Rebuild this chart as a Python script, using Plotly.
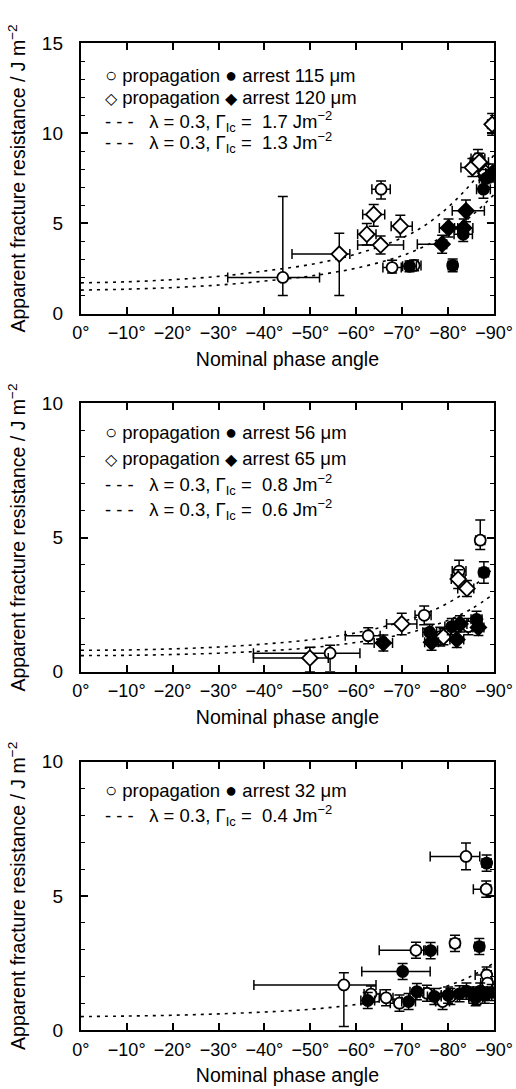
import plotly.graph_objects as go

# ---------------- DATA ----------------
x_tick_vals = [0, -10, -20, -30, -40, -50, -60, -70, -80, -90]
x_tick_text = ["0°", "−10°", "−20°", "−30°", "−40°", "−50°", "−60°", "−70°", "−80°", "−90°"]

curve_angle = [0, -10, -20, -30, -40, -50, -60, -70, -75, -80, -85, -90]
p1_curve_17 = [1.70, 1.76, 1.88, 2.06, 2.36, 2.72, 3.30, 4.20, 4.90, 5.90, 7.20, 8.80]
p1_curve_13 = [1.30, 1.35, 1.44, 1.58, 1.80, 2.08, 2.52, 3.21, 3.75, 4.45, 5.40, 6.60]
p2_curve_08 = [0.80, 0.81, 0.85, 0.92, 1.03, 1.19, 1.45, 1.86, 2.16, 2.56, 3.11, 3.88]
p2_curve_06 = [0.60, 0.61, 0.64, 0.69, 0.77, 0.89, 1.09, 1.39, 1.62, 1.92, 2.33, 2.91]
p3_curve_04 = [0.50, 0.52, 0.55, 0.60, 0.67, 0.77, 0.95, 1.20, 1.40, 1.65, 2.00, 2.50]

# Panel 1 : 115 um (circles) and 120 um (diamonds)
p1_prop115_x = [-44.0, -65.4, -67.8, -72.6, -86.5]
p1_prop115_y = [2.0, 6.9, 2.55, 2.67, 8.6]
p1_prop115_exl = [12.0, 2.0, 2.0, 1.5, 1.5]
p1_prop115_exr = [8.0, 2.0, 2.0, 1.5, 1.5]
p1_prop115_eyu = [4.5, 0.45, 0.4, 0.3, 0.5]
p1_prop115_eyd = [1.0, 0.55, 0.3, 0.3, 0.5]

p1_arr115_x = [-71.6, -81.0, -83.3, -87.7, -88.3]
p1_arr115_y = [2.62, 2.67, 4.4, 6.9, 7.5]
p1_arr115_exl = [1.5, 1.0, 2.0, 1.5, 1.5]
p1_arr115_exr = [1.5, 1.0, 2.0, 1.5, 1.0]
p1_arr115_eyu = [0.3, 0.35, 0.4, 0.5, 0.5]
p1_arr115_eyd = [0.3, 0.35, 0.4, 0.5, 0.5]

p1_prop120_x = [-56.3, -63.8, -62.3, -65.3, -69.6, -85.3, -86.8, -88.2, -89.6]
p1_prop120_y = [3.3, 5.5, 4.4, 3.8, 4.85, 8.1, 8.4, 7.8, 10.5]
p1_prop120_exl = [10.3, 2.4, 2.0, 5.0, 2.0, 2.5, 2.0, 1.5, 1.0]
p1_prop120_exr = [2.3, 2.4, 2.0, 5.0, 2.6, 2.0, 2.0, 1.5, 0.4]
p1_prop120_eyu = [1.15, 0.55, 0.6, 0.5, 0.6, 0.5, 0.5, 0.5, 0.6]
p1_prop120_eyd = [2.3, 0.65, 0.6, 0.5, 0.6, 0.5, 0.5, 0.5, 0.6]

p1_arr120_x = [-78.7, -80.1, -83.4, -83.9, -89.7]
p1_arr120_y = [3.85, 4.75, 4.75, 5.7, 7.8]
p1_arr120_exl = [5.4, 2.0, 2.0, 3.0, 1.5]
p1_arr120_exr = [1.0, 2.0, 2.0, 4.0, 0.3]
p1_arr120_eyu = [0.5, 0.5, 0.5, 0.6, 0.5]
p1_arr120_eyd = [0.5, 0.5, 0.5, 0.6, 0.5]

# Panel 2 : 56 um (circles) and 65 um (diamonds)
p2_prop56_x = [-54.3, -62.6, -74.8, -78.3, -84.4, -82.4, -87.0]
p2_prop56_y = [0.69, 1.34, 2.1, 1.31, 1.68, 3.75, 4.9]
p2_prop56_exl = [16.7, 5.0, 2.0, 1.5, 1.5, 1.5, 1.0]
p2_prop56_exr = [6.5, 2.6, 1.5, 1.5, 1.5, 1.5, 1.0]
p2_prop56_eyu = [0.3, 0.3, 0.35, 0.35, 0.3, 0.4, 0.75]
p2_prop56_eyd = [0.69, 0.3, 0.35, 0.35, 0.3, 0.4, 0.35]

p2_arr56_x = [-76.0, -80.8, -86.2, -87.8]
p2_arr56_y = [1.47, 1.68, 1.95, 3.7]
p2_arr56_exl = [1.5, 1.5, 1.2, 1.0]
p2_arr56_exr = [1.5, 1.5, 1.2, 1.0]
p2_arr56_eyu = [0.3, 0.3, 0.3, 0.4]
p2_arr56_eyd = [0.3, 0.3, 0.3, 0.4]

p2_prop65_x = [-49.9, -69.9, -82.2, -84.1, -79.0]
p2_prop65_y = [0.51, 1.78, 3.45, 3.1, 1.3]
p2_prop65_exl = [12.3, 3.3, 1.5, 2.0, 1.5]
p2_prop65_exr = [4.0, 3.3, 1.5, 1.5, 1.5]
p2_prop65_eyu = [0.4, 0.4, 0.35, 0.3, 0.3]
p2_prop65_eyd = [0.51, 0.4, 0.35, 0.3, 0.3]

p2_arr65_x = [-65.9, -76.4, -81.9, -82.6, -86.6]
p2_arr65_y = [1.07, 1.1, 1.2, 1.78, 1.65]
p2_arr65_exl = [2.0, 1.5, 1.5, 1.5, 1.2]
p2_arr65_exr = [2.0, 1.5, 1.5, 1.5, 1.2]
p2_arr65_eyu = [0.3, 0.3, 0.3, 0.3, 0.3]
p2_arr65_eyd = [0.3, 0.3, 0.3, 0.3, 0.3]

# Panel 3 : 32 um (circles)
p3_prop32_x = [-57.3, -63.2, -69.4, -73.0, -75.4, -78.8, -81.5, -83.9, -88.3, -88.4, -88.6, -66.5, -80.5, -86.0]
p3_prop32_y = [1.68, 1.34, 1.0, 2.97, 1.37, 1.06, 3.23, 6.47, 5.25, 2.05, 1.75, 1.2, 1.25, 1.2]
p3_prop32_exl = [19.6, 1.5, 2.0, 8.0, 1.5, 1.5, 1.0, 7.8, 2.8, 2.5, 1.5, 1.5, 1.5, 1.5]
p3_prop32_exr = [7.0, 2.0, 2.0, 2.0, 1.5, 1.5, 1.0, 3.0, 1.0, 1.0, 1.0, 1.5, 1.5, 1.5]
p3_prop32_eyu = [0.45, 0.3, 0.3, 0.3, 0.3, 0.3, 0.3, 0.5, 0.3, 0.3, 0.3, 0.3, 0.3, 0.3]
p3_prop32_eyd = [1.55, 0.3, 0.3, 0.3, 0.3, 0.3, 0.3, 0.5, 0.3, 0.3, 0.3, 0.3, 0.3, 0.3]

p3_arr32_x = [-70.1, -76.2, -86.8, -88.4, -73.2, -71.4, -62.5, -82.5, -84.0, -85.5, -87.0, -88.0, -89.5, -86.2, -80.0, -77.0]
p3_arr32_y = [2.18, 2.96, 3.11, 6.22, 1.43, 1.06, 1.1, 1.35, 1.45, 1.3, 1.45, 1.3, 1.4, 1.25, 1.3, 1.25]
p3_arr32_exl = [8.9, 1.5, 1.0, 1.0, 1.5, 1.5, 1.5, 1.5, 1.5, 1.5, 1.5, 1.0, 0.5, 1.5, 1.5, 1.5]
p3_arr32_exr = [6.0, 1.5, 1.0, 1.0, 1.5, 1.5, 1.5, 1.5, 1.5, 1.5, 1.5, 1.0, 0.5, 1.5, 1.5, 1.5]
p3_arr32_eyu = [0.3] * 16
p3_arr32_eyd = [0.3] * 16

# ---------------- FIGURE ----------------
W, H = 516, 1089
FONT = "Liberation Sans, Arial, Helvetica, sans-serif"
X0, X1 = 80.8 / W, 494 / W
panel_px = [(43.3, 313.5, 15), (403.3, 671.7, 10), (761.7, 1030.0, 10)]

fig = go.Figure()


def yd(top, bot):
    return [1 - bot / H, 1 - top / H]


def add_curve(k, x, y):
    sx = "x" if k == 1 else f"x{k}"
    sy = "y" if k == 1 else f"y{k}"
    fig.add_trace(go.Scatter(x=x, y=y, mode="lines", xaxis=sx, yaxis=sy,
                             line=dict(color="black", width=1.6, dash="3px,5px", shape="spline"),
                             showlegend=False, hoverinfo="skip"))


def add_pts(k, x, y, exl, exr, eyu, eyd, symbol, filled):
    sx = "x" if k == 1 else f"x{k}"
    sy = "y" if k == 1 else f"y{k}"
    fig.add_trace(go.Scatter(
        x=x, y=y, mode="markers", xaxis=sx, yaxis=sy, showlegend=False,
        marker=dict(symbol=symbol, size=11 if symbol == "circle" else 12,
                    color="black" if filled else "white",
                    line=dict(color="black", width=1.8)),
        error_x=dict(type="data", array=exl, arrayminus=exr, color="black", thickness=1.5, width=5),
        error_y=dict(type="data", array=eyu, arrayminus=eyd, color="black", thickness=1.5, width=5),
    ))


add_curve(1, curve_angle, p1_curve_17)
add_curve(1, curve_angle, p1_curve_13)
add_curve(2, curve_angle, p2_curve_08)
add_curve(2, curve_angle, p2_curve_06)
add_curve(3, curve_angle, p3_curve_04)

add_pts(1, p1_prop115_x, p1_prop115_y, p1_prop115_exl, p1_prop115_exr, p1_prop115_eyu, p1_prop115_eyd, "circle", False)
add_pts(1, p1_prop120_x, p1_prop120_y, p1_prop120_exl, p1_prop120_exr, p1_prop120_eyu, p1_prop120_eyd, "diamond", False)
add_pts(1, p1_arr115_x, p1_arr115_y, p1_arr115_exl, p1_arr115_exr, p1_arr115_eyu, p1_arr115_eyd, "circle", True)
add_pts(1, p1_arr120_x, p1_arr120_y, p1_arr120_exl, p1_arr120_exr, p1_arr120_eyu, p1_arr120_eyd, "diamond", True)

add_pts(2, p2_prop56_x, p2_prop56_y, p2_prop56_exl, p2_prop56_exr, p2_prop56_eyu, p2_prop56_eyd, "circle", False)
add_pts(2, p2_prop65_x, p2_prop65_y, p2_prop65_exl, p2_prop65_exr, p2_prop65_eyu, p2_prop65_eyd, "diamond", False)
add_pts(2, p2_arr56_x, p2_arr56_y, p2_arr56_exl, p2_arr56_exr, p2_arr56_eyu, p2_arr56_eyd, "circle", True)
add_pts(2, p2_arr65_x, p2_arr65_y, p2_arr65_exl, p2_arr65_exr, p2_arr65_eyu, p2_arr65_eyd, "diamond", True)

add_pts(3, p3_prop32_x, p3_prop32_y, p3_prop32_exl, p3_prop32_exr, p3_prop32_eyu, p3_prop32_eyd, "circle", False)
add_pts(3, p3_arr32_x, p3_arr32_y, p3_arr32_exl, p3_arr32_exr, p3_arr32_eyu, p3_arr32_eyd, "circle", True)

layout = dict(width=W, height=H, margin=dict(l=0, r=0, t=0, b=0, autoexpand=False),
              template="none",
              paper_bgcolor="white", plot_bgcolor="white",
              font=dict(family=FONT, size=18, color="black"), showlegend=False)

for i, (top, bot, ymax) in enumerate(panel_px, start=1):
    xn = "xaxis" if i == 1 else f"xaxis{i}"
    yn = "yaxis" if i == 1 else f"yaxis{i}"
    layout[xn] = dict(domain=[X0, X1], anchor="y" if i == 1 else f"y{i}",
                      range=[0, -90], tickvals=x_tick_vals, ticktext=x_tick_text,
                      ticks="inside", ticklen=7, tickwidth=1.5, tickcolor="black",
                      showline=True, linewidth=2, linecolor="black", mirror="ticks",
                      showgrid=False, zeroline=False, tickfont=dict(size=18),
                      automargin=False, ticklabelstandoff=2,
                      title=dict(text="Nominal phase angle", font=dict(size=19.5), standoff=10))
    layout[yn] = dict(domain=yd(top, bot), anchor="x" if i == 1 else f"x{i}",
                      range=[0, ymax], tickvals=list(range(0, ymax + 1, 5)),
                      ticks="inside", ticklen=7, tickwidth=1.5, tickcolor="black",
                      minor=dict(dtick=1, ticks="inside", ticklen=4, tickwidth=1, tickcolor="black", showgrid=False),
                      showline=True, linewidth=2, linecolor="black", mirror="ticks",
                      showgrid=False, zeroline=False, tickfont=dict(size=19),
                      automargin=False, ticklabelstandoff=12,
                      title=dict(text="Apparent fracture resistance / J m<sup>−2</sup>",
                                 font=dict(size=19.5), standoff=11))
fig.update_layout(**layout)

CIRC = '<span style="font-size:20px">{}</span>'
DIAM = '<span style="font-size:16px">{}</span>'
legend_rows = [
    (75, CIRC.format("○") + " propagation " + CIRC.format("●") + " arrest 115 μm"),
    (98, DIAM.format("◇") + " propagation " + DIAM.format("◆") + " arrest 120 μm"),
    (121, "- - -   λ = 0.3, Γ<sub>Ic</sub> =  1.7 Jm<sup>−2</sup>"),
    (143, "- - -   λ = 0.3, Γ<sub>Ic</sub> =  1.3 Jm<sup>−2</sup>"),
    (432, CIRC.format("○") + " propagation " + CIRC.format("●") + " arrest 56 μm"),
    (458, DIAM.format("◇") + " propagation " + DIAM.format("◆") + " arrest 65 μm"),
    (484, "- - -   λ = 0.3, Γ<sub>Ic</sub> =  0.8 Jm<sup>−2</sup>"),
    (509, "- - -   λ = 0.3, Γ<sub>Ic</sub> =  0.6 Jm<sup>−2</sup>"),
    (790, CIRC.format("○") + " propagation " + CIRC.format("●") + " arrest 32 μm"),
    (815, "- - -   λ = 0.3, Γ<sub>Ic</sub> =  0.4 Jm<sup>−2</sup>"),
]
for ypx, txt in legend_rows:
    fig.add_annotation(x=103 / W, y=1 - ypx / H, xref="paper", yref="paper",
                       xanchor="left", yanchor="middle", text=txt, showarrow=False,
                       font=dict(family=FONT, size=18.5, color="black"))

fig.write_html("out.html")
